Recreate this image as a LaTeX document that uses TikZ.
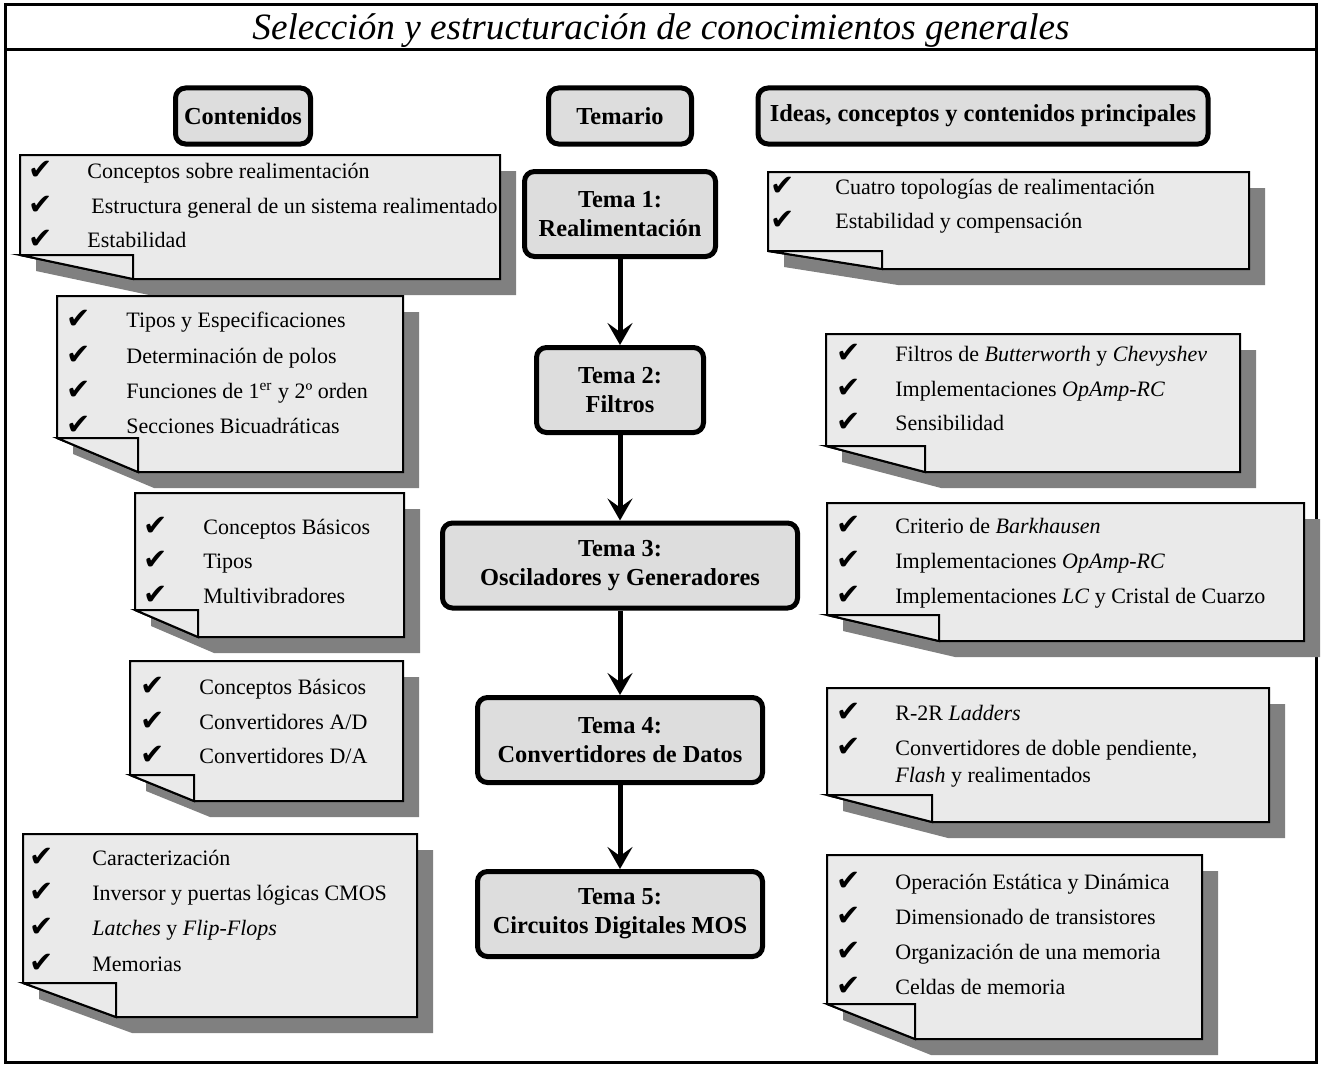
\documentclass[tikz,border=0pt]{standalone}
\usepackage{fontspec}
\setmainfont{Liberation Serif}
\newfontfamily\checkfont{DejaVu Sans}
\usetikzlibrary{arrows.meta}
\definecolor{boxgray}{HTML}{DDDDDD}
\definecolor{notegray}{HTML}{EAEAEA}
\definecolor{shadowgray}{HTML}{808080}
\tikzset{
    maintitle/.style={inner sep=0pt, font=\fontsize{18.6}{22}\selectfont\itshape},
    headbox/.style={draw, line width=2.5pt, rounded corners=5pt, fill=boxgray,
            minimum height=28pt, inner sep=0pt,
            font=\fontsize{12.2}{14.5}\selectfont\bfseries},
    temabox/.style={headbox, minimum height=42.5pt, align=center},
    notepage/.style={draw, line width=1pt, fill=notegray},
    checkmark/.style={inner sep=0pt, font=\checkfont\fontsize{14.5}{14.5}\selectfont},
    entry/.style={anchor=west, inner sep=0pt, text height=8pt, text depth=3pt,
            font=\fontsize{11}{13.5}\selectfont},
    link/.style={line width=2.5pt, -{Stealth[length=11pt, width=12.5pt, inset=4.5pt]}},
}
% sheet with folded corner and shadow: x1, y1, x2, y2, fold x, fold y
\newcommand{\notepaper}[6]{%
    \fill[shadowgray, shift={(16,16)}] (#1,#2) -- (#3,#2) -- (#3,#4) -- (#5,#4) -- (#1,#6) -- cycle;
    \draw[notepage] (#1,#2) -- (#3,#2) -- (#3,#4) -- (#5,#4) -- (#1,#6) -- cycle;
    \draw[notepage] (#1,#6) -- (#5,#6) -- (#5,#4) -- cycle;
}

\begin{document}
\begin{tikzpicture}[x=0.5pt, y=-0.5pt]
        \useasboundingbox (0,0) rectangle (1321,1070);
        %draw frame and title
        \draw[line width=1.5pt] (5,5) rectangle (1316,1062);
        \draw[line width=1.5pt] (5,50) -- (1316,50);
        \node[maintitle] (title) at (661,31) {Selección y estructuración de conocimientos generales};
        %column headers
        \node[headbox, minimum width=67.5pt] (cont) at (243,116) {Contenidos};
        \node[headbox, minimum width=71.5pt] (temario) at (620,116) {Temario};
        \node[headbox, minimum width=225pt] (ideas) at (983,116) {Ideas, conceptos y contenidos principales};
        %topics
        \node[temabox, minimum width=95.5pt] (tema1) at (620,214) {Tema 1:\\Realimentación};
        \node[temabox, minimum width=83.5pt] (tema2) at (620,390) {Tema 2:\\Filtros};
        \node[temabox, minimum width=177.5pt] (tema3) at (620,565.5) {Tema 3:\\Osciladores y Generadores};
        \node[temabox, minimum width=142.5pt] (tema4) at (620,740) {Tema 4:\\Convertidores de Datos};
        \node[temabox, minimum width=142.5pt] (tema5) at (620,914) {Tema 5:\\Circuitos Digitales MOS};
        %arrows between topics
        \draw[link] (tema1) -- (tema2);
        \draw[link] (tema2) -- (tema3);
        \draw[link] (tema3) -- (tema4);
        \draw[link] (tema4) -- (tema5);
        %contents, topic 1
        \notepaper{20}{155}{500}{279}{133}{255}
        \node[checkmark] (c1a) at (41,170) {✔};
        \node[checkmark] (c1b) at (41,205) {✔};
        \node[checkmark] (c1c) at (41,239) {✔};
        \node[entry] (t1a) at (87,173) {Conceptos sobre realimentación};
        \node[entry] (t1b) at (91,208) {Estructura general de un sistema realimentado};
        \node[entry] (t1c) at (87,242) {Estabilidad};
        %contents, topic 2
        \notepaper{57}{296}{403}{472}{138}{438}
        \node[checkmark] (c2a) at (79,319) {✔};
        \node[checkmark] (c2b) at (79,355) {✔};
        \node[checkmark] (c2c) at (79,390) {✔};
        \node[checkmark] (c2d) at (79,425) {✔};
        \node[entry] (t2a) at (126,322) {Tipos y Especificaciones};
        \node[entry] (t2b) at (126,358) {Determinación de polos};
        \node[entry] (t2c) at (126,393) {Funciones de 1\textsuperscript{er} y 2º orden};
        \node[entry] (t2d) at (126,428) {Secciones Bicuadráticas};
        %contents, topic 3
        \notepaper{135}{493}{404}{637}{198}{610}
        \node[checkmark] (c3a) at (156,526) {✔};
        \node[checkmark] (c3b) at (156,560) {✔};
        \node[checkmark] (c3c) at (156,595) {✔};
        \node[entry] (t3a) at (203,529) {Conceptos Básicos};
        \node[entry] (t3b) at (203,563) {Tipos};
        \node[entry] (t3c) at (203,598) {Multivibradores};
        %contents, topic 4
        \notepaper{130}{661}{403}{801}{194}{775}
        \node[checkmark] (c4a) at (153,686) {✔};
        \node[checkmark] (c4b) at (153,721) {✔};
        \node[checkmark] (c4c) at (153,755) {✔};
        \node[entry] (t4a) at (199,689) {Conceptos Básicos};
        \node[entry] (t4b) at (199,724) {Convertidores A/D};
        \node[entry] (t4c) at (199,758) {Convertidores D/A};
        %contents, topic 5
        \notepaper{23}{834}{417}{1017}{116}{983}
        \node[checkmark] (c5a) at (42,857) {✔};
        \node[checkmark] (c5b) at (42,892) {✔};
        \node[checkmark] (c5c) at (42,927) {✔};
        \node[checkmark] (c5d) at (42,963) {✔};
        \node[entry] (t5a) at (92,860) {Caracterización};
        \node[entry] (t5b) at (92,895) {Inversor y puertas lógicas CMOS};
        \node[entry] (t5c) at (92,930) {\textit{Latches} y \textit{Flip-Flops}};
        \node[entry] (t5d) at (92,966) {Memorias};
        %main ideas, topic 1
        \notepaper{768}{172}{1249}{269}{882}{251}
        \node[checkmark] (i1a) at (783,186) {✔};
        \node[checkmark] (i1b) at (783,220) {✔};
        \node[entry] (m1a) at (835,189) {Cuatro topologías de realimentación};
        \node[entry] (m1b) at (835,223) {Estabilidad y compensación};
        %main ideas, topic 2
        \notepaper{826}{334}{1240}{472}{925}{446}
        \node[checkmark] (i2a) at (849,353) {✔};
        \node[checkmark] (i2b) at (849,388) {✔};
        \node[checkmark] (i2c) at (849,422) {✔};
        \node[entry] (m2a) at (895,356) {Filtros de \textit{Butterworth} y \textit{Chevyshev}};
        \node[entry] (m2b) at (895,391) {Implementaciones \textit{OpAmp-RC}};
        \node[entry] (m2c) at (895,425) {Sensibilidad};
        %main ideas, topic 3
        \notepaper{827}{503}{1304}{641}{939}{615}
        \node[checkmark] (i3a) at (849,525) {✔};
        \node[checkmark] (i3b) at (849,560) {✔};
        \node[checkmark] (i3c) at (849,595) {✔};
        \node[entry] (m3a) at (895,528) {Criterio de \textit{Barkhausen}};
        \node[entry] (m3b) at (895,563) {Implementaciones \textit{OpAmp-RC}};
        \node[entry] (m3c) at (895,598) {Implementaciones \textit{LC} y Cristal de Cuarzo};
        %main ideas, topic 4
        \notepaper{827}{688}{1269}{822}{932}{795}
        \node[checkmark] (i4a) at (849,712) {✔};
        \node[checkmark] (i4b) at (849,747) {✔};
        \node[entry] (m4a) at (895,715) {R-2R \textit{Ladders}};
        \node[entry] (m4b) at (895,750) {Convertidores de doble pendiente,};
        \node[entry] (m4c) at (895,777) {\textit{Flash} y realimentados};
        %main ideas, topic 5
        \notepaper{827}{855}{1202}{1039}{915}{1004}
        \node[checkmark] (i5a) at (849,881) {✔};
        \node[checkmark] (i5b) at (849,916) {✔};
        \node[checkmark] (i5c) at (849,951) {✔};
        \node[checkmark] (i5d) at (849,986) {✔};
        \node[entry] (m5a) at (895,884) {Operación Estática y Dinámica};
        \node[entry] (m5b) at (895,919) {Dimensionado de transistores};
        \node[entry] (m5c) at (895,954) {Organización de una memoria};
        \node[entry] (m5d) at (895,989) {Celdas de memoria};
    \end{tikzpicture}
\end{document}
